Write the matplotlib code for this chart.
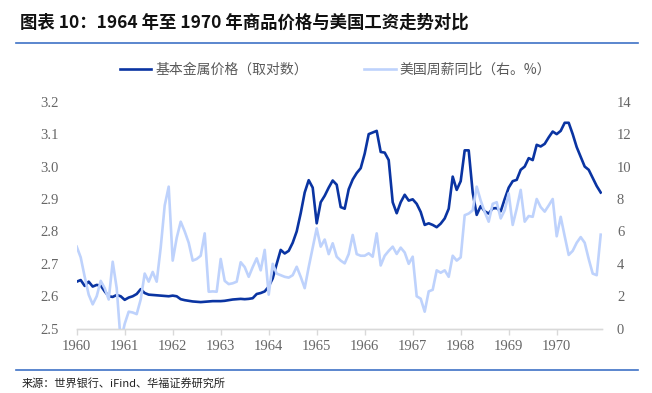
# =========================================
# 1964-1970 商品价格与美国工资走势对比
# =========================================

import numpy as np
import pandas as pd
import matplotlib
matplotlib.use("Agg")
import matplotlib.pyplot as plt
from matplotlib.lines import Line2D

# =========================================
# 数据 (月度, 1960-01 ~ 1970-12)
# =========================================

months = pd.date_range("1960-01-01", "1970-12-01", freq="MS")

# 基本金属价格（取对数）- 左轴
metal = [
    2.645, 2.650, 2.632, 2.645, 2.630, 2.635, 2.633, 2.615, 2.600, 2.598, 2.604, 2.600,  # 1960
    2.589, 2.596, 2.600, 2.607, 2.622, 2.610, 2.605, 2.604, 2.603, 2.602, 2.601, 2.600,  # 1961
    2.602, 2.600, 2.591, 2.588, 2.586, 2.584, 2.583, 2.582, 2.583, 2.584, 2.585, 2.585,  # 1962
    2.585, 2.586, 2.588, 2.590, 2.591, 2.592, 2.591, 2.592, 2.594, 2.607, 2.610, 2.615,  # 1963
    2.630, 2.655, 2.700, 2.743, 2.732, 2.740, 2.765, 2.800, 2.856, 2.920, 2.958, 2.935,  # 1964
    2.825, 2.890, 2.910, 2.935, 2.957, 2.944, 2.875, 2.870, 2.930, 2.960, 2.980, 2.995,  # 1965
    3.040, 3.100, 3.105, 3.110, 3.045, 3.043, 3.020, 2.890, 2.856, 2.890, 2.913, 2.895,  # 1966
    2.899, 2.885, 2.860, 2.820, 2.825, 2.820, 2.813, 2.824, 2.840, 2.870, 2.969, 2.928,  # 1967
    2.955, 3.050, 3.050, 2.920, 2.851, 2.878, 2.862, 2.855, 2.871, 2.872, 2.862, 2.900,  # 1968
    2.935, 2.955, 2.959, 2.990, 3.000, 3.026, 3.020, 3.067, 3.062, 3.070, 3.090, 3.108,  # 1969
    3.100, 3.110, 3.135, 3.135, 3.100, 3.060, 3.030, 3.000, 2.990, 2.965, 2.940, 2.920,  # 1970
]

# 美国周薪同比（%）- 右轴
wage = [
    5.06, 4.40, 3.20, 2.10, 1.50, 2.00, 2.95, 2.50, 1.80, 4.13, 2.50, -0.80,  # 1960
    0.30, 1.05, 1.00, 0.90, 1.80, 3.40, 2.90, 3.50, 2.90, 5.00, 7.60, 8.76,  # 1961
    4.20, 5.60, 6.60, 6.00, 5.30, 4.20, 4.30, 4.50, 5.88, 2.28, 2.30, 2.28,  # 1962
    4.30, 2.95, 2.75, 2.80, 2.90, 4.10, 3.80, 3.20, 3.80, 4.34, 3.60, 4.86,  # 1963
    2.10, 4.00, 3.40, 3.30, 3.20, 3.15, 3.30, 3.82, 3.20, 2.50, 3.80, 5.00,  # 1964
    6.19, 5.06, 5.50, 4.60, 5.27, 4.44, 4.20, 4.03, 4.60, 5.78, 4.60, 4.50,  # 1965
    4.50, 4.65, 4.44, 5.88, 3.90, 4.50, 4.80, 5.06, 4.61, 5.00, 4.70, 4.00,  # 1966
    4.44, 2.00, 1.85, 1.05, 2.30, 2.40, 3.60, 3.45, 3.60, 3.20, 4.50, 4.20,  # 1967
    4.40, 7.00, 7.10, 7.30, 8.76, 7.90, 7.20, 6.60, 7.70, 7.80, 6.80, 7.30,  # 1968
    8.35, 6.40, 7.40, 8.56, 6.60, 6.95, 6.90, 8.00, 7.50, 7.22, 7.60, 8.00,  # 1969
    5.70, 6.90, 5.70, 4.55, 4.80, 5.30, 5.65, 5.30, 4.30, 3.40, 3.30, 5.80,  # 1970
]

years = list(range(1960, 1971))
left_ticks = [2.5, 2.6, 2.7, 2.8, 2.9, 3.0, 3.1, 3.2]
right_ticks = [0, 2, 4, 6, 8, 10, 12, 14]

# 小数年份
x = months.year + (months.month - 1) / 12.0

# =========================================
# 字体 / 颜色
# =========================================

plt.rcParams['font.family'] = ['Noto Sans CJK SC', 'DejaVu Sans']
cjk = ['Noto Sans CJK SC', 'DejaVu Sans']
num_font = 'Liberation Serif'

dark = '#0a34a2'
light = '#bed2fc'
grey = '#666666'
rule = '#3e72c6'

# =========================================
# 图
# =========================================

fig = plt.figure(figsize=(6.52, 3.93), dpi=100)
ax = fig.add_axes([76.7 / 652, 1 - 328.7 / 393, 525 / 652, 227 / 393])
ax2 = ax.twinx()

ax.plot(x, metal, color=dark, lw=1.9, solid_joinstyle='round', zorder=3,
        label='基本金属价格（取对数）')
ax2.plot(x, wage, color=light, lw=1.9, solid_joinstyle='round', zorder=3,
         label='美国周薪同比（右。%）')

ax.set_xlim(1960, 1960 + 131.25 / 12)
ax.set_ylim(2.5, 3.2)
ax2.set_ylim(0, 14)

ax.set_xticks(years)
ax.set_xticklabels([str(y) for y in years])
ax.set_yticks(left_ticks)
ax.set_yticklabels(['%.1f' % v for v in left_ticks])
ax2.set_yticks(right_ticks)
ax2.set_yticklabels([str(v) for v in right_ticks])

for a in (ax, ax2):
    for s in ('top', 'left', 'right'):
        a.spines[s].set_visible(False)
    a.spines['bottom'].set_color('#d9d9d9')
    a.spines['bottom'].set_linewidth(1.0)

ax.tick_params(axis='x', direction='out', length=4, width=1.0, color='#d9d9d9',
               pad=4, labelcolor=grey, labelsize=10.5)
ax.tick_params(axis='y', length=0, pad=13, labelcolor=grey, labelsize=10.5)
ax2.tick_params(axis='y', length=0, pad=11, labelcolor=grey, labelsize=10.5)

for lab in ax.get_xticklabels() + ax.get_yticklabels() + ax2.get_yticklabels():
    lab.set_family(num_font)

# 图例
h1, l1 = ax.get_legend_handles_labels()
h2, l2 = ax2.get_legend_handles_labels()
leg = fig.legend(h1 + h2, l1 + l2, loc='center left', ncol=2,
                 bbox_to_anchor=(107 / 652, 1 - 70 / 393),
                 frameon=False, handlelength=2.3,
                 columnspacing=4.0, handletextpad=0.3,
                 prop={'family': cjk, 'size': 10})
for t in leg.get_texts():
    t.set_color('#595959')

# 标题 / 来源
fig.text(20 / 652, 1 - 23 / 393,
         '图表 10：1964 年至 1970 年商品价格与美国工资走势对比',
         fontsize=12.5, fontweight='bold', va='center', ha='left',
         family=cjk, color='#111111')
fig.add_artist(Line2D([16 / 652, 638 / 652], [1 - 43 / 393] * 2,
                      color=rule, lw=1.2))
fig.add_artist(Line2D([16 / 652, 638 / 652], [1 - 370 / 393] * 2,
                      color=rule, lw=1.2))
fig.text(22 / 652, 1 - 383 / 393, '来源：世界银行、iFind、华福证券研究所',
         fontsize=8, va='center', ha='left', family=cjk, color='#222222')

fig.savefig('out.png', dpi=100)
